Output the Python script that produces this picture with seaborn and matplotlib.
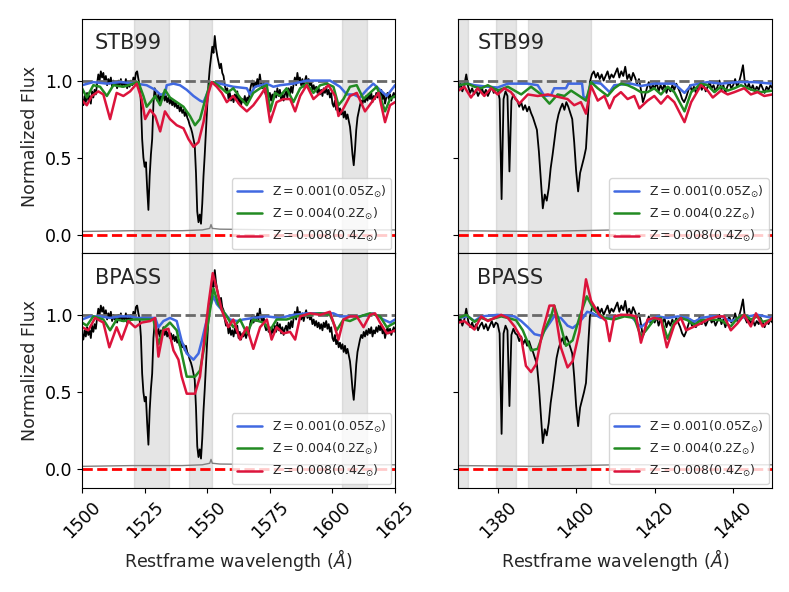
import numpy as np
import matplotlib
matplotlib.use("Agg")
import matplotlib.pyplot as plt
import seaborn as sns

# observed spectrum (same in both rows), 0.5 A sampling
civ_start, civ_step = 1500.0, 0.5
civ_flux = [
    0.88, 0.84, 0.90, 0.86, 0.92, 0.87, 0.90, 0.85, 0.93, 0.89,
    0.94, 0.91, 0.98, 1.04, 1.00, 1.06, 1.02, 1.05, 0.99, 1.03,
    0.97, 1.01, 0.98, 1.02, 0.96, 1.00, 0.97, 0.99, 0.95, 1.00,
    0.97, 1.01, 0.96, 0.99, 0.97, 1.01, 0.95, 0.98, 0.96, 1.00,
    0.97, 1.02, 0.99, 1.05, 1.06, 1.01, 0.97, 0.86, 0.62, 0.50,
    0.44, 0.47, 0.30, 0.16, 0.38, 0.52, 0.62, 0.85, 0.95, 0.90,
    0.87, 0.91, 0.86, 0.90, 0.88, 0.92, 0.87, 0.90, 0.86, 0.89,
    0.85, 0.88, 0.84, 0.87, 0.83, 0.86, 0.82, 0.84, 0.80, 0.83,
    0.79, 0.81, 0.77, 0.80, 0.76, 0.74, 0.71, 0.69, 0.66, 0.62,
    0.58, 0.40, 0.15, 0.08, 0.13, 0.07, 0.20, 0.38, 0.52, 0.68,
    0.84, 0.98, 1.08, 1.15, 1.22, 1.18, 1.29, 1.21, 1.16, 1.12,
    1.08, 1.11, 1.05, 1.03, 0.97, 0.93, 0.95, 0.88, 0.92, 0.87,
    0.90, 0.86, 0.91, 0.88, 0.93, 0.85, 0.89, 0.84, 0.88, 0.86,
    0.90, 0.85, 0.89, 0.87, 0.93, 0.97, 1.00, 0.95, 0.99, 0.96,
    1.01, 0.97, 1.04, 0.98, 0.95, 0.99, 0.93, 0.90, 0.94, 0.89,
    0.92, 0.87, 0.91, 0.88, 0.93, 0.89, 0.95, 0.90, 0.94, 0.88,
    0.92, 0.87, 0.91, 0.93, 0.89, 0.95, 0.91, 0.96, 0.92, 0.98,
    1.02, 0.97, 1.05, 0.99, 1.02, 0.97, 1.01, 0.96, 1.00, 1.03,
    0.98, 1.01, 0.97, 0.99, 0.94, 0.97, 0.93, 0.96, 0.92, 0.95,
    0.91, 0.94, 0.90, 0.95, 0.92, 0.96, 0.91, 0.94, 0.89, 0.92,
    0.85, 0.83, 0.87, 0.81, 0.84, 0.79, 0.82, 0.78, 0.81, 0.76,
    0.80, 0.75, 0.78, 0.74, 0.70, 0.62, 0.52, 0.45, 0.55, 0.68,
    0.76, 0.80, 0.84, 0.87, 0.85, 0.89, 0.86, 0.90, 0.87, 0.91,
    0.88, 0.92, 0.86, 0.90, 0.88, 0.92, 0.89, 0.93, 0.90, 0.94,
    0.88, 0.91, 0.85, 0.89, 0.92, 0.88, 0.91, 0.87, 0.90, 0.92,
    0.89]

siiv_start, siiv_step = 1370.0, 0.5
siiv_flux = [
    0.95, 0.98, 0.93, 0.97, 1.04, 0.96, 0.92, 0.95, 0.91, 0.94,
    0.90, 0.93, 0.95, 0.91, 0.94, 0.90, 0.93, 0.96, 0.92, 0.95,
    0.94, 0.88, 0.23, 0.88, 0.93, 0.90, 0.41, 0.87, 0.91, 0.88,
    0.87, 0.83, 0.86, 0.81, 0.84, 0.80, 0.83, 0.79, 0.76, 0.72,
    0.68, 0.54, 0.35, 0.17, 0.26, 0.22, 0.30, 0.43, 0.52, 0.62,
    0.72, 0.78, 0.82, 0.85, 0.81, 0.86, 0.83, 0.79, 0.75, 0.60,
    0.41, 0.28, 0.40, 0.45, 0.50, 0.56, 0.77, 0.99, 1.04, 1.06,
    1.02, 1.05, 1.01, 1.04, 1.00, 1.03, 1.06, 1.01, 1.04, 1.02,
    1.05, 1.08, 1.02, 1.06, 1.03, 1.09, 1.01, 1.04, 1.00, 1.05,
    1.02, 0.98, 1.01, 0.94, 0.86, 0.90, 0.95, 0.99, 0.94, 0.97,
    0.95, 0.99, 0.93, 0.97, 0.94, 0.98, 0.92, 0.96, 0.93, 0.97,
    0.94, 0.98, 0.95, 0.92, 0.88, 0.86, 0.89, 0.93, 0.97, 0.93,
    0.96, 0.92, 0.95, 0.99, 0.94, 0.97, 0.93, 0.96, 0.99, 0.95,
    0.97, 0.93, 0.96, 1.00, 0.94, 0.97, 0.92, 0.96, 0.99, 0.95,
    0.97, 1.01, 0.96, 0.99, 1.04, 1.10, 0.98, 0.95, 0.98, 0.94,
    0.97, 0.93, 0.96, 0.94, 0.98, 0.95, 0.92, 0.96, 0.94, 0.97,
    0.95]

# error spectra
civ_err = [(1500, 0.02), (1520, 0.025), (1540, 0.025), (1548, 0.03), (1551, 0.04),
           (1551.5, 0.065), (1552, 0.04), (1555, 0.035), (1580, 0.03), (1600, 0.03),
           (1625, 0.03)]
siiv_err = [(1370, 0.025), (1390, 0.02), (1400, 0.025), (1410, 0.03), (1430, 0.03),
            (1450, 0.03)]

# model spectra (wavelength, normalized flux)
stb_civ_z001 = [
    (1500.0, 0.97), (1504.5, 0.99), (1509.9, 0.98), (1515.2, 0.99), (1521.8, 0.98),
    (1525.8, 0.97), (1529.2, 0.94), (1531.2, 0.91), (1533.1, 0.91), (1533.8, 0.97),
    (1536.5, 0.98), (1539.1, 0.97), (1541.8, 0.94), (1544.5, 0.90), (1547.1, 0.87),
    (1548.5, 0.86), (1549.8, 0.91), (1551.8, 0.99), (1555.1, 0.98), (1560.4, 0.96),
    (1565.8, 0.95), (1567.1, 0.91), (1569.1, 0.96), (1573.8, 0.98), (1576.4, 0.96),
    (1579.1, 0.97), (1584.4, 0.98), (1589.7, 1.00), (1599.0, 1.00), (1603.0, 0.96),
    (1605.7, 0.91), (1608.4, 0.91), (1611.0, 0.89), (1613.7, 0.94), (1616.3, 0.98),
    (1619.0, 0.94), (1621.7, 0.90), (1625.0, 0.97)]
stb_civ_z004 = [
    (1500.0, 0.95), (1501.9, 0.89), (1504.5, 0.97), (1507.2, 0.96), (1509.9, 0.90),
    (1512.5, 0.97), (1516.5, 0.96), (1520.5, 0.98), (1522.5, 0.99), (1524.5, 0.90),
    (1525.8, 0.83), (1527.8, 0.87), (1529.2, 0.90), (1531.2, 0.84), (1533.1, 0.94),
    (1535.1, 0.89), (1537.8, 0.86), (1540.5, 0.83), (1543.1, 0.77), (1545.1, 0.71),
    (1547.1, 0.75), (1549.1, 0.87), (1551.1, 0.98), (1552.5, 0.99), (1555.1, 0.96),
    (1557.8, 0.92), (1560.4, 0.95), (1563.1, 0.89), (1565.8, 0.84), (1568.4, 0.92),
    (1571.1, 0.95), (1573.8, 0.97), (1575.1, 0.80), (1577.1, 0.92), (1579.1, 0.90),
    (1581.7, 0.95), (1584.4, 0.86), (1587.1, 0.95), (1589.7, 0.98), (1592.4, 0.92),
    (1595.1, 0.97), (1597.7, 0.98), (1600.4, 0.96), (1602.4, 0.84), (1604.4, 0.88),
    (1607.0, 0.96), (1609.7, 0.97), (1612.4, 0.88), (1615.0, 0.92), (1617.7, 0.96),
    (1619.0, 0.90), (1621.0, 0.80), (1623.0, 0.88), (1625.0, 0.90)]
stb_civ_z008 = [
    (1500.0, 0.87), (1501.9, 0.84), (1503.9, 0.90), (1506.5, 0.93), (1508.5, 0.91),
    (1511.2, 0.75), (1513.8, 0.92), (1516.5, 0.90), (1519.2, 0.93), (1521.8, 0.98),
    (1523.8, 0.88), (1525.2, 0.75), (1527.2, 0.81), (1529.2, 0.77), (1531.2, 0.67),
    (1533.1, 0.80), (1535.1, 0.75), (1537.8, 0.71), (1540.5, 0.69), (1542.5, 0.62),
    (1544.5, 0.57), (1546.5, 0.60), (1548.5, 0.73), (1550.5, 0.92), (1551.8, 0.99),
    (1553.8, 0.96), (1555.8, 0.92), (1557.8, 0.86), (1560.4, 0.90), (1563.1, 0.84),
    (1565.8, 0.80), (1568.4, 0.84), (1571.1, 0.90), (1573.1, 0.95), (1575.1, 0.73),
    (1577.7, 0.86), (1580.4, 0.88), (1583.1, 0.88), (1585.1, 0.80), (1587.1, 0.90),
    (1589.7, 0.97), (1592.4, 0.88), (1595.1, 0.92), (1598.4, 0.97), (1601.0, 0.90),
    (1602.4, 0.77), (1604.4, 0.82), (1607.0, 0.90), (1609.7, 0.92), (1613.0, 0.80),
    (1615.7, 0.86), (1618.4, 0.92), (1621.0, 0.73), (1623.0, 0.84), (1625.0, 0.86)]

bpass_civ_z001 = [
    (1500.0, 0.97), (1503.2, 0.99), (1507.2, 0.99), (1511.2, 0.98), (1515.2, 0.99),
    (1519.2, 0.99), (1521.8, 0.98), (1525.8, 0.98), (1529.2, 0.98), (1530.5, 0.92),
    (1532.5, 0.96), (1535.1, 0.98), (1537.8, 0.96), (1539.8, 0.83), (1541.8, 0.75),
    (1544.5, 0.71), (1546.5, 0.75), (1547.8, 0.83), (1549.1, 0.92), (1551.1, 1.05),
    (1552.5, 1.12), (1553.8, 1.07), (1556.4, 1.02), (1559.1, 0.97), (1561.8, 0.96),
    (1564.4, 0.97), (1568.4, 0.98), (1573.8, 0.99), (1579.1, 0.98), (1584.4, 1.00),
    (1589.7, 1.01), (1600.4, 1.01), (1603.0, 0.99), (1611.0, 0.99), (1616.3, 1.01),
    (1620.3, 0.97), (1623.0, 0.95), (1625.0, 0.97)]
bpass_civ_z004 = [
    (1500.0, 0.95), (1501.9, 0.93), (1504.5, 0.99), (1508.5, 0.97), (1511.2, 0.90),
    (1513.8, 0.97), (1516.5, 0.96), (1520.5, 0.97), (1525.8, 0.97), (1528.5, 0.97),
    (1530.5, 0.81), (1532.5, 0.91), (1535.1, 0.95), (1537.8, 0.90), (1539.1, 0.80),
    (1541.8, 0.60), (1545.1, 0.60), (1547.1, 0.64), (1549.1, 0.82), (1551.1, 1.03),
    (1552.5, 1.17), (1554.4, 1.07), (1557.8, 0.99), (1560.4, 0.92), (1563.1, 0.97),
    (1565.8, 0.88), (1568.4, 0.97), (1572.4, 0.95), (1575.1, 0.90), (1577.7, 0.97),
    (1581.7, 0.97), (1585.7, 0.99), (1589.7, 1.00), (1595.1, 1.01), (1599.0, 1.00),
    (1601.7, 0.90), (1604.4, 0.97), (1607.0, 0.96), (1611.0, 0.99), (1615.0, 1.01),
    (1619.0, 0.99), (1621.7, 0.92), (1625.0, 0.95)]
bpass_civ_z008 = [
    (1500.0, 0.92), (1502.5, 0.90), (1505.2, 0.98), (1508.5, 0.95), (1510.9, 0.79),
    (1513.8, 0.92), (1515.8, 0.84), (1518.5, 0.96), (1521.2, 0.92), (1523.8, 0.95),
    (1527.2, 0.96), (1529.2, 0.98), (1530.5, 0.73), (1532.5, 0.90), (1534.5, 0.91),
    (1536.5, 0.77), (1538.5, 0.71), (1539.8, 0.60), (1541.8, 0.49), (1545.1, 0.49),
    (1547.1, 0.60), (1549.1, 0.88), (1550.5, 1.07), (1552.2, 1.27), (1553.8, 1.17),
    (1555.8, 1.03), (1558.4, 0.92), (1560.4, 0.97), (1563.1, 0.84), (1565.8, 0.92),
    (1568.4, 0.78), (1571.1, 0.92), (1573.8, 0.97), (1575.7, 0.84), (1577.7, 0.92),
    (1580.4, 0.88), (1583.1, 0.89), (1585.1, 0.84), (1587.1, 0.99), (1591.1, 1.01),
    (1595.1, 1.00), (1599.0, 1.02), (1600.4, 0.95), (1602.4, 0.84), (1604.4, 0.97),
    (1607.0, 0.99), (1609.7, 0.99), (1612.4, 0.92), (1615.0, 1.00), (1617.0, 1.01),
    (1619.0, 0.95), (1621.7, 0.88), (1623.7, 0.89), (1625.0, 0.90)]

stb_siiv_z001 = [
    (1370.0, 0.97), (1372.4, 0.98), (1374.1, 0.97), (1377.5, 0.96), (1380.0, 0.955),
    (1382.6, 0.98), (1385.1, 0.98), (1387.7, 0.98), (1390.2, 0.97), (1391.9, 0.90),
    (1393.6, 0.905), (1394.4, 0.95), (1397.4, 0.95), (1398.0, 0.98), (1401.5, 0.98),
    (1401.9, 0.89), (1402.9, 0.89), (1403.8, 0.99), (1406.3, 0.98), (1408.5, 0.925),
    (1409.7, 0.97), (1414.0, 0.98), (1416.5, 0.965), (1419.9, 0.98), (1425.0, 0.98),
    (1427.6, 0.92), (1429.3, 0.97), (1433.5, 0.99), (1436.9, 0.98), (1441.1, 0.99),
    (1445.4, 0.99), (1450.0, 0.98)]
stb_siiv_z004 = [
    (1370.0, 0.97), (1372.4, 0.98), (1374.1, 0.96), (1375.8, 0.95), (1377.5, 0.97),
    (1380.0, 0.935), (1382.6, 0.96), (1386.0, 0.91), (1388.5, 0.96), (1391.1, 0.91),
    (1393.2, 0.85), (1395.3, 0.91), (1397.0, 0.90), (1398.7, 0.935), (1400.8, 0.90),
    (1402.5, 0.87), (1403.8, 0.99), (1405.5, 0.95), (1408.0, 0.90), (1409.7, 0.95),
    (1411.4, 0.98), (1413.1, 0.97), (1414.8, 0.95), (1416.5, 0.925), (1418.2, 0.925),
    (1419.9, 0.95), (1421.6, 0.91), (1423.3, 0.96), (1425.0, 0.925), (1427.6, 0.80),
    (1429.3, 0.925), (1431.8, 0.98), (1433.5, 0.97), (1435.2, 0.925), (1436.9, 0.96),
    (1438.6, 0.935), (1440.3, 0.95), (1442.0, 0.97), (1443.7, 0.95), (1445.4, 0.935),
    (1447.1, 0.925), (1450.0, 0.935)]
stb_siiv_z008 = [
    (1370.0, 0.935), (1371.5, 0.96), (1373.2, 0.89), (1374.9, 0.95), (1376.6, 0.90),
    (1378.3, 0.95), (1380.0, 0.91), (1381.7, 0.95), (1383.4, 0.925), (1385.5, 0.85),
    (1387.7, 0.91), (1390.2, 0.90), (1392.8, 0.91), (1394.4, 0.90), (1396.1, 0.89),
    (1397.8, 0.88), (1399.5, 0.84), (1401.2, 0.86), (1402.5, 0.785), (1403.8, 0.965),
    (1405.5, 0.87), (1407.2, 0.90), (1408.5, 0.82), (1409.7, 0.89), (1411.4, 0.925),
    (1413.1, 0.88), (1414.8, 0.90), (1416.1, 0.82), (1418.2, 0.87), (1419.9, 0.90),
    (1421.6, 0.85), (1423.3, 0.90), (1425.0, 0.86), (1427.6, 0.73), (1429.3, 0.86),
    (1431.8, 0.97), (1433.5, 0.935), (1434.8, 0.89), (1436.9, 0.935), (1438.6, 0.91),
    (1440.3, 0.925), (1442.8, 0.95), (1444.5, 0.91), (1446.2, 0.925), (1447.9, 0.90),
    (1450.0, 0.91)]

bpass_siiv_z001 = [
    (1370.0, 0.98), (1372.4, 0.99), (1374.1, 0.96), (1375.8, 0.99), (1380.0, 1.00),
    (1384.3, 0.99), (1386.0, 0.96), (1387.7, 0.92), (1389.4, 0.875), (1391.1, 0.865),
    (1392.8, 0.93), (1394.4, 0.99), (1396.1, 0.98), (1397.8, 0.93), (1399.1, 0.915),
    (1400.4, 0.94), (1401.7, 0.98), (1402.8, 1.02), (1404.2, 1.01), (1406.3, 0.98),
    (1408.9, 0.98), (1411.4, 1.00), (1414.0, 0.99), (1416.5, 0.92), (1418.2, 0.955),
    (1420.8, 0.99), (1423.3, 0.98), (1425.9, 0.99), (1428.4, 0.98), (1430.1, 0.955),
    (1431.8, 0.98), (1434.4, 0.99), (1436.9, 0.99), (1439.4, 0.96), (1442.0, 0.98),
    (1443.7, 0.99), (1446.2, 1.00), (1450.0, 0.98)]
bpass_siiv_z004 = [
    (1370.0, 0.98), (1372.0, 1.00), (1374.1, 0.955), (1375.8, 0.98), (1377.5, 0.965),
    (1380.9, 0.99), (1382.6, 0.98), (1384.7, 0.965), (1386.4, 0.90), (1388.5, 0.77),
    (1390.2, 0.78), (1391.9, 0.90), (1393.6, 0.99), (1394.4, 1.06), (1396.1, 0.925),
    (1397.4, 0.80), (1399.1, 0.835), (1400.8, 0.98), (1402.7, 1.12), (1404.6, 1.03),
    (1407.2, 0.98), (1409.7, 0.97), (1412.3, 0.99), (1414.8, 0.98), (1416.5, 0.86),
    (1417.8, 0.90), (1419.9, 0.97), (1421.6, 0.98), (1423.3, 0.845), (1425.0, 0.955),
    (1426.7, 0.98), (1428.4, 0.965), (1430.1, 0.935), (1431.8, 0.965), (1434.4, 0.97),
    (1436.9, 0.965), (1439.4, 0.925), (1441.1, 0.98), (1442.8, 1.00), (1444.5, 0.97),
    (1446.2, 0.99), (1447.5, 0.955), (1450.0, 0.97)]
bpass_siiv_z008 = [
    (1370.0, 0.95), (1371.5, 0.96), (1374.1, 0.905), (1375.8, 0.99), (1377.5, 0.96),
    (1379.2, 0.98), (1380.9, 1.00), (1382.6, 0.98), (1384.3, 0.925), (1386.0, 0.85),
    (1387.2, 0.67), (1388.5, 0.63), (1389.8, 0.68), (1391.5, 0.90), (1393.2, 1.06),
    (1394.4, 1.06), (1396.1, 0.79), (1397.8, 0.66), (1399.1, 0.70), (1400.8, 0.89),
    (1402.5, 1.23), (1403.8, 1.09), (1405.9, 1.00), (1407.6, 0.96), (1408.5, 0.83),
    (1409.7, 0.99), (1411.4, 1.00), (1413.6, 1.00), (1415.3, 0.99), (1416.5, 0.82),
    (1418.2, 0.97), (1419.9, 0.98), (1421.6, 0.97), (1423.1, 0.79), (1425.0, 0.935),
    (1426.7, 0.98), (1428.0, 0.90), (1430.1, 0.925), (1431.8, 0.945), (1433.5, 0.97),
    (1436.1, 0.99), (1437.7, 0.99), (1439.4, 0.90), (1441.1, 0.945), (1442.8, 1.00),
    (1444.5, 0.925), (1445.8, 1.01), (1447.5, 0.925), (1450.0, 0.98)]

# masked (shaded) wavelength ranges
civ_masks = [(1520.8, 1534.7), (1542.7, 1551.9), (1603.8, 1613.8)]
siiv_masks = [(1368.0, 1372.5), (1379.5, 1384.6), (1387.7, 1403.8)]

model_labels = [r'$\mathrm{Z = 0.001 (0.05Z_{\odot})}$',
                r'$\mathrm{Z = 0.004 (0.2Z_{\odot})}$',
                r'$\mathrm{Z = 0.008 (0.4Z_{\odot})}$']
model_colors = ['royalblue', 'forestgreen', 'crimson']

sns.set_style("ticks")
plt.rcParams['font.family'] = ['DejaVu Sans']
plt.rcParams['axes.edgecolor'] = 'black'
plt.rcParams['xtick.color'] = 'black'
plt.rcParams['ytick.color'] = 'black'
plt.rcParams['xtick.labelsize'] = 12.5
plt.rcParams['ytick.labelsize'] = 12.5
plt.rcParams['axes.labelsize'] = 12.5


def draw_panel(ax, start, step, flux, err, models, masks, xlim, name, name_x):
    for a, b in masks:
        ax.axvspan(a, b, color='gray', alpha=0.2, lw=1)
    wl = start + step * np.arange(len(flux))
    sns.lineplot(x=wl, y=flux, color='black', lw=1.3, ax=ax)
    sns.lineplot(x=[p[0] for p in err], y=[p[1] for p in err], color='gray', lw=1, ax=ax)
    ax.axhline(1.0, color='dimgray', ls='--', lw=2)
    ax.axhline(0.0, color='red', ls='--', lw=2)
    for m, c, lab in zip(models, model_colors, model_labels):
        sns.lineplot(x=[p[0] for p in m], y=[p[1] for p in m], color=c, lw=1.8,
                     label=lab, ax=ax)
    ax.legend(loc='lower right', fontsize=9, borderaxespad=0.3)
    ax.set_xlim(*xlim)
    ax.set_ylim(-0.12, 1.4)
    ax.set_yticks([0.0, 0.5, 1.0])
    ax.text(name_x, 0.87, name, transform=ax.transAxes, fontsize=15)


fig = plt.figure(figsize=(7.89, 5.92), dpi=100)
ax_tl = fig.add_axes([0.104, 0.5726, 0.3967, 0.3953])
ax_tr = fig.add_axes([0.581, 0.5726, 0.398, 0.3953])
ax_bl = fig.add_axes([0.104, 0.1757, 0.3967, 0.3969])
ax_br = fig.add_axes([0.581, 0.1757, 0.398, 0.3969])

draw_panel(ax_tl, civ_start, civ_step, civ_flux, civ_err,
           [stb_civ_z001, stb_civ_z004, stb_civ_z008], civ_masks, (1500, 1625), 'STB99', 0.04)
draw_panel(ax_bl, civ_start, civ_step, civ_flux, civ_err,
           [bpass_civ_z001, bpass_civ_z004, bpass_civ_z008], civ_masks, (1500, 1625), 'BPASS', 0.04)
draw_panel(ax_tr, siiv_start, siiv_step, siiv_flux, siiv_err,
           [stb_siiv_z001, stb_siiv_z004, stb_siiv_z008], siiv_masks, (1370, 1450), 'STB99', 0.06)
draw_panel(ax_br, siiv_start, siiv_step, siiv_flux, siiv_err,
           [bpass_siiv_z001, bpass_siiv_z004, bpass_siiv_z008], siiv_masks, (1370, 1450), 'BPASS', 0.06)

for ax in (ax_tl, ax_bl):
    ax.set_xticks([1500, 1525, 1550, 1575, 1600, 1625])
    ax.set_ylabel('Normalized Flux')
for ax in (ax_tr, ax_br):
    ax.set_xticks([1380, 1400, 1420, 1440])
    ax.tick_params(labelleft=False)
    ax.set_ylabel('')
for ax in (ax_tl, ax_tr):
    ax.tick_params(labelbottom=False)
    ax.set_xlabel('')
for ax in (ax_bl, ax_br):
    plt.setp(ax.get_xticklabels(), rotation=45)
    ax.set_xlabel(r'Restframe wavelength ($\AA$)')

fig.savefig('out.png', dpi=100)
